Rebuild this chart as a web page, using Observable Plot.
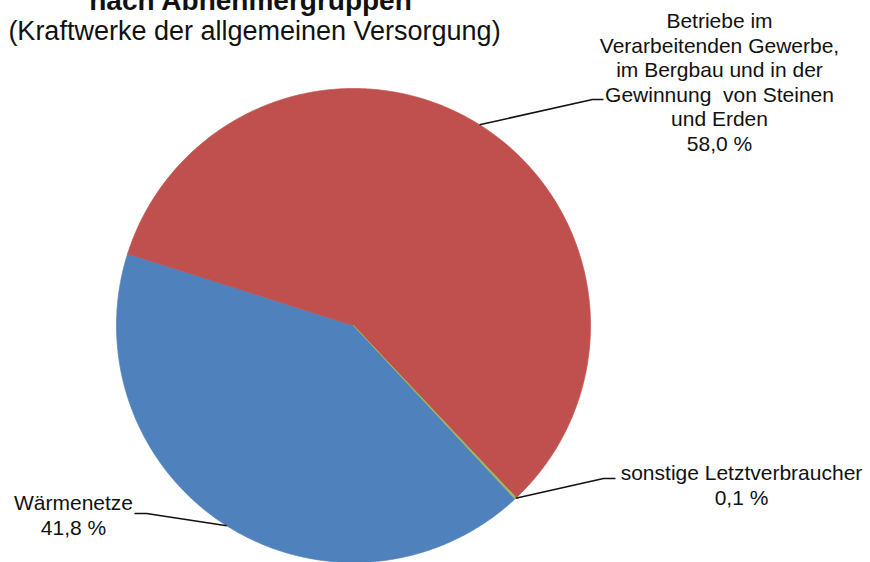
<!DOCTYPE html>
<html><head><meta charset="utf-8">
<script src="https://cdn.jsdelivr.net/npm/d3@7"></script>
<script src="https://cdn.jsdelivr.net/npm/@observablehq/plot@0.6"></script>
<style>
html,body{margin:0;padding:0;background:#fff;}
#chart{width:870px;height:562px;overflow:hidden;}
</style></head><body><div id="chart"></div>
<script>
// ---- data ----
const categories = ["Wärmenetze", "Betriebe im Verarbeitenden Gewerbe, im Bergbau und in der Gewinnung von Steinen und Erden", "sonstige Letztverbraucher"];
const values = [41.8, 58.0, 0.1];
const valueLabels = ["41,8 %", "58,0 %", "0,1 %"];
const labelLines = [["Wärmenetze"], ["Betriebe im", "Verarbeitenden Gewerbe,", "im Bergbau und in der", "Gewinnung\u00A0 von Steinen", "und Erden"], ["sonstige Letztverbraucher"]];
const colors = ["#4F81BD", "#C0504D", "#9BBB59"];
const title = "nach Abnehmergruppen";
const subtitle = "(Kraftwerke der allgemeinen Versorgung)";

// ---- layout ----
const W = 870, H = 562, cx = 353, cy = 325, R = 237;
const start = 137 * Math.PI / 180;
const FONT = "'Liberation Sans', Arial, sans-serif";
// label anchors (centre x, top of first line) and leader bend/end points
const labelPos = [{x: 73, y: 492}, {x: 719, y: 10}, {x: 741, y: 462}];
const leaderBends = [[[146, 513], [134, 513]], [[592, 99], [603, 99]], [[603, 478], [615, 478]]];

const arcs = d3.pie().sort(null).startAngle(start).endAngle(start + 2 * Math.PI)(values);

const slicePts = [];
arcs.forEach((a, i) => {
  const n = Math.max(2, Math.ceil((a.endAngle - a.startAngle) / (Math.PI / 360)));
  slicePts.push({k: categories[i], x: cx, y: cy});
  for (let j = 0; j <= n; j++) {
    const t = a.startAngle + (a.endAngle - a.startAngle) * j / n;
    slicePts.push({k: categories[i], x: cx + R * Math.sin(t), y: cy - R * Math.cos(t)});
  }
});

const leaderPts = [];
arcs.forEach((a, i) => {
  const m = (a.startAngle + a.endAngle) / 2;
  leaderPts.push({k: i, x: cx + R * Math.sin(m), y: cy - R * Math.cos(m)});
  leaderBends[i].forEach(([x, y]) => leaderPts.push({k: i, x, y}));
});

const labels = categories.map((c, i) => ({
  x: labelPos[i].x, y: labelPos[i].y,
  text: [...labelLines[i], valueLabels[i]].join("\n")
}));

const chart = Plot.plot({
  width: W, height: H, margin: 0,
  x: {domain: [0, W], range: [0, W], axis: null},
  y: {domain: [0, H], range: [0, H], axis: null},
  color: {domain: categories, range: colors},
  style: {fontFamily: FONT, background: "white", overflow: "visible"},
  marks: [
    Plot.line(slicePts, {x: "x", y: "y", z: "k", fill: "k", stroke: "k", strokeWidth: 0.7, curve: "linear-closed"}),
    Plot.line(leaderPts, {x: "x", y: "y", z: "k", stroke: "#111", strokeWidth: 1.6, strokeLinejoin: "miter", strokeLinecap: "butt"}),
    Plot.text(labels, {x: "x", y: "y", text: "text", fontSize: 21, lineAnchor: "top", lineHeight: 1.17, fill: "#111"}),
    Plot.text([title], {x: () => 250, y: () => -10, text: d => d, fontSize: 28, fontWeight: "bold", lineAnchor: "top", fill: "#111"}),
    Plot.text([subtitle], {x: () => 254, y: () => 20, text: d => d, fontSize: 27, lineAnchor: "top", fill: "#111"})
  ]
});
document.getElementById("chart").appendChild(chart);
</script>
</body></html>
